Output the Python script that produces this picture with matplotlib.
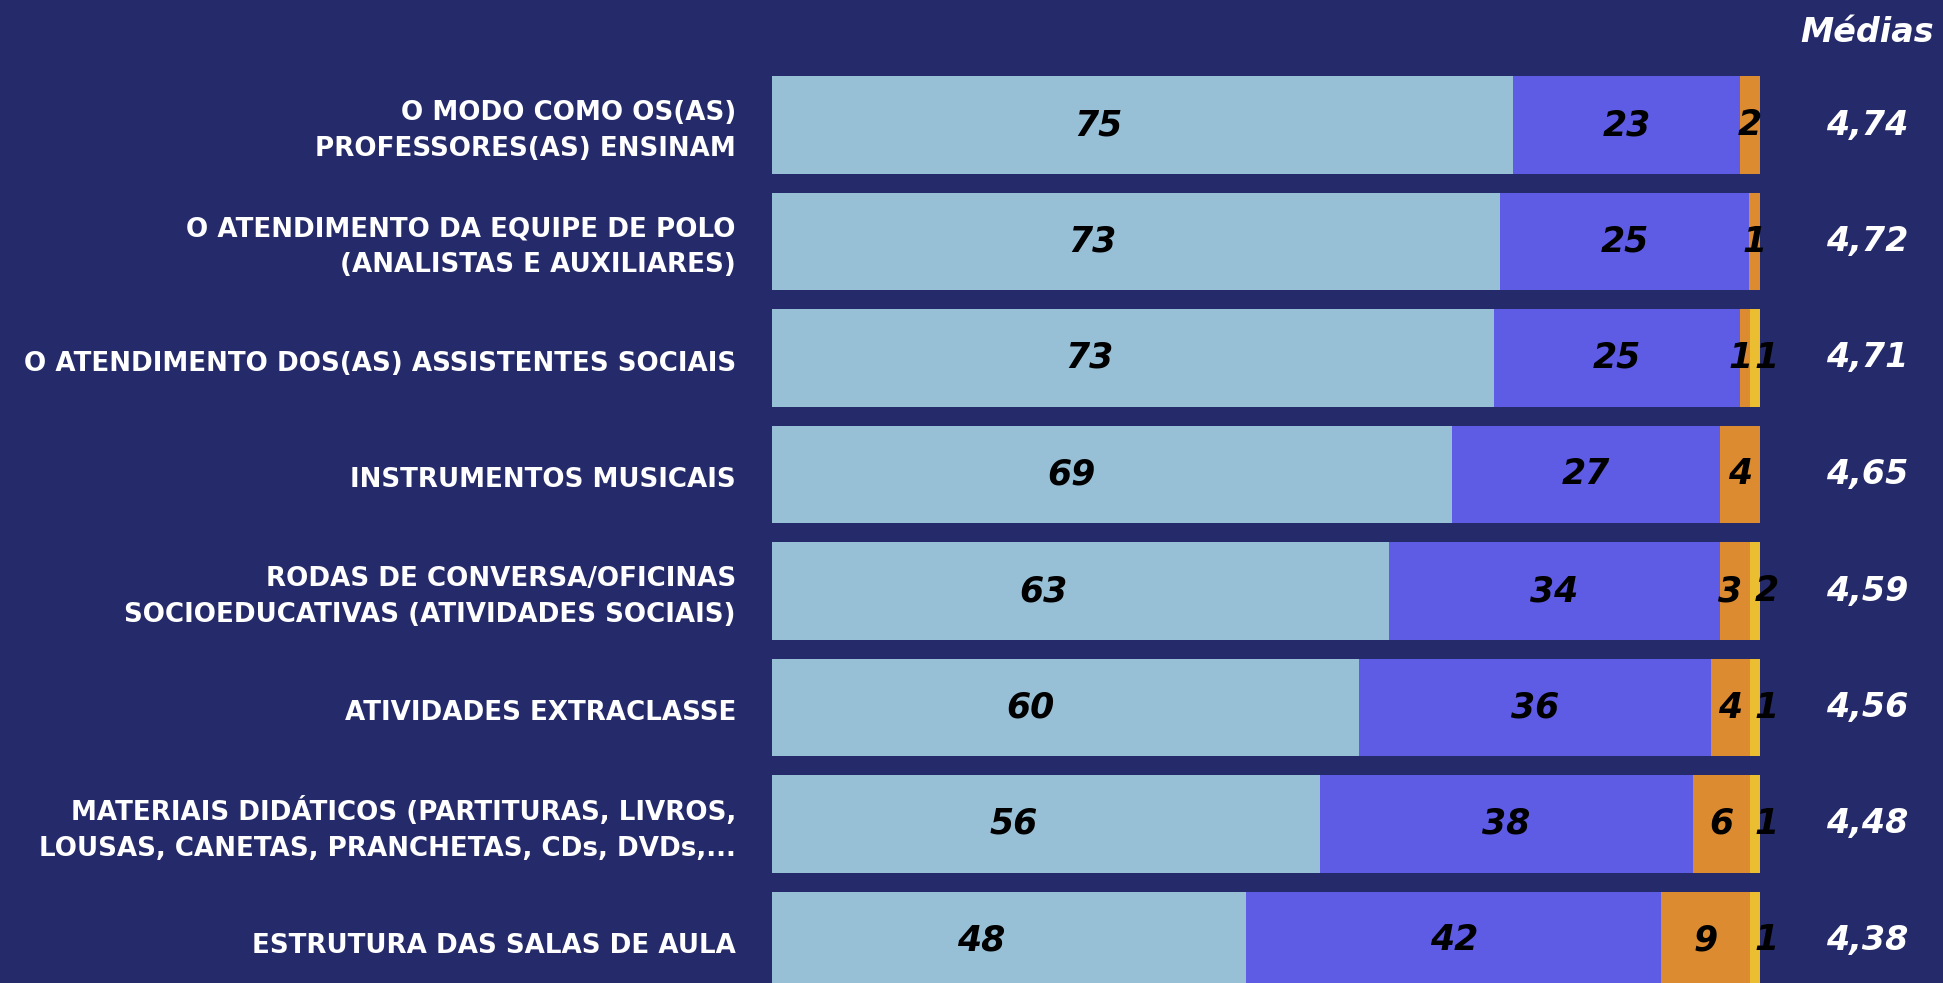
import matplotlib
matplotlib.use("Agg")
import matplotlib.pyplot as plt

# ---------------- data ----------------
categories = [
    "O MODO COMO OS(AS)\nPROFESSORES(AS) ENSINAM",
    "O ATENDIMENTO DA EQUIPE DE POLO\n(ANALISTAS E AUXILIARES)",
    "O ATENDIMENTO DOS(AS) ASSISTENTES SOCIAIS",
    "INSTRUMENTOS MUSICAIS",
    "RODAS DE CONVERSA/OFICINAS\nSOCIOEDUCATIVAS (ATIVIDADES SOCIAIS)",
    "ATIVIDADES EXTRACLASSE",
    "MATERIAIS DIDÁTICOS (PARTITURAS, LIVROS,\nLOUSAS, CANETAS, PRANCHETAS, CDs, DVDs,...",
    "ESTRUTURA DAS SALAS DE AULA",
]
# segment widths (%) as measured
seg1 = [75.0, 73.7, 73.1, 68.8, 62.4, 59.4, 55.5, 48.0]
seg2 = [23.0, 25.2, 24.9, 27.2, 33.6, 35.6, 37.7, 42.0]
seg3 = [2.0, 1.1, 1.0, 4.0, 3.0, 4.0, 5.8, 9.0]
seg4 = [0.0, 0.0, 1.0, 0.0, 1.0, 1.0, 1.0, 1.0]
# printed labels
lab1 = ["75", "73", "73", "69", "63", "60", "56", "48"]
lab2 = ["23", "25", "25", "27", "34", "36", "38", "42"]
lab3 = ["2", "1", "1", "4", "3", "4", "6", "9"]
lab4 = ["", "", "1", "", "2", "1", "1", "1"]
medias = ["4,74", "4,72", "4,71", "4,65", "4,59", "4,56", "4,48", "4,38"]
header = "Médias"

colors = ["#97C0D6", "#5E5BE4", "#DD8B30", "#EBBE32"]
BG = "#252A6A"

W, H = 1943, 983
fig = plt.figure(figsize=(W / 100, H / 100), dpi=100, facecolor=BG)

num_family = ["DejaVu Sans"]
lab_family = ["DejaVu Sans"]

# axes placement in pixels
x0, x1 = 772, 1760
row0_c, pitch = 125, 116.5
ytop = row0_c - 0.5 * pitch
ybot = row0_c + 7.5 * pitch
ax = fig.add_axes([x0 / W, (H - ybot) / H, (x1 - x0) / W, (ybot - ytop) / H])
ax.set_facecolor(BG)
ax.set_xlim(0, 100)
ax.set_ylim(7.5, -0.5)
ax.axis("off")

n = len(categories)
ys = list(range(n))
h = 0.84
left = [0.0] * n
segs = [seg1, seg2, seg3, seg4]
labs = [lab1, lab2, lab3, lab4]
for k, (vals, lb) in enumerate(zip(segs, labs)):
    ax.barh(ys, vals, left=left, height=h, color=colors[k], edgecolor="none")
    for i in range(n):
        if lb[i]:
            dx = 0
            if k == 0:
                xc = left[i] + vals[i] * 0.44
            else:
                xc = left[i] + vals[i] / 2
            if k == 3:
                dx = 12
            if k == 2 and seg4[i] > 0 and vals[i] < 3.5:
                dx = -5
            ax.annotate(lb[i], (xc, ys[i]), xytext=(dx, 0), textcoords="offset pixels",
                        ha="center", va="center", fontsize=25, fontweight="bold",
                        fontstyle="italic", family=num_family, color="black",
                        annotation_clip=False)
    left = [l + v for l, v in zip(left, vals)]

# category labels
xl = (736 - x0) / (x1 - x0) * 100
for i, c in enumerate(categories):
    ax.text(xl, ys[i] + 0.05, c, ha="right", va="center", fontsize=18.8,
            fontweight="bold", family=lab_family, color="white",
            linespacing=1.5, clip_on=False)

# medias
xm = (1867 - x0) / (x1 - x0) * 100
for i, m in enumerate(medias):
    ax.text(xm, ys[i], m, ha="center", va="center", fontsize=24,
            fontweight="bold", fontstyle="italic", family=num_family,
            color="white", clip_on=False)
ax.text(xm, (32 - row0_c) / pitch, header, ha="center", va="center", fontsize=24,
        fontweight="bold", fontstyle="italic", family=num_family,
        color="white", clip_on=False)

fig.savefig("out.png", dpi=100, facecolor=BG)
